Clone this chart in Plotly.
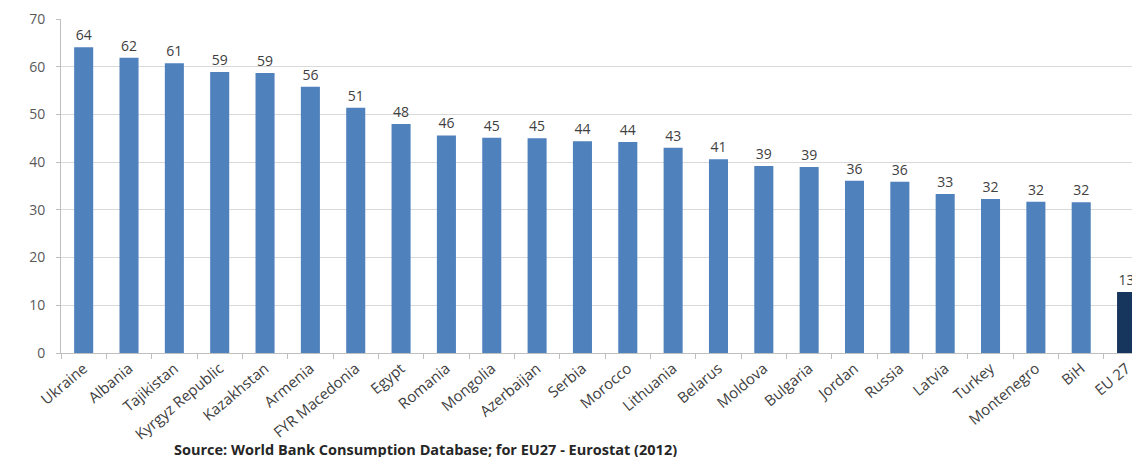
import plotly.graph_objects as go

countries = ["Ukraine", "Albania", "Tajikistan", "Kyrgyz Republic", "Kazakhstan", "Armenia",
             "FYR Macedonia", "Egypt", "Romania", "Mongolia", "Azerbaijan", "Serbia", "Morocco",
             "Lithuania", "Belarus", "Moldova", "Bulgaria", "Jordan", "Russia", "Latvia",
             "Turkey", "Montenegro", "BiH", "EU 27"]
values = [64.1, 61.9, 60.7, 58.9, 58.7, 55.8, 51.4, 48.0, 45.6, 45.1, 45.0, 44.4, 44.2,
          43.0, 40.6, 39.2, 39.0, 36.1, 35.9, 33.3, 32.3, 31.7, 31.6, 12.8]
y_ticks = [0, 10, 20, 30, 40, 50, 60, 70]
source_text = "Source: World Bank Consumption Database; for EU27 - Eurostat (2012)"

colors = ["#4F81BD"] * (len(countries) - 1) + ["#17365D"]

FONT = "Open Sans"

fig = go.Figure(go.Bar(
    x=countries,
    y=values,
    marker=dict(color=colors, line=dict(width=0)),
    width=0.42,
    texttemplate="%{y:.0f}",
    textposition="outside",
    textfont=dict(family=FONT, size=14, color="#404040"),
    cliponaxis=True,
))

fig.update_layout(
    width=1132, height=457,
    margin=dict(l=61, r=0, t=19, b=104, autoexpand=False),
    plot_bgcolor="white", paper_bgcolor="white",
    showlegend=False,
    font=dict(family=FONT, color="#404040"),
    bargap=0.58,
)

fig.update_yaxes(
    range=[0, 70], tickvals=y_ticks,
    showgrid=True, gridcolor="#D9D9D9", gridwidth=1,
    showline=True, linecolor="#BFBFBF", linewidth=1,
    ticks="outside", ticklen=4, tickcolor="#BFBFBF",
    tickfont=dict(family=FONT, size=14, color="#595959"),
    ticklabelstandoff=8,
    zeroline=False, automargin=False,
)
fig.update_xaxes(
    range=[-0.5, 23.12],
    showline=True, linecolor="#BFBFBF", linewidth=1,
    ticks="outside", ticklen=5, tickcolor="#BFBFBF", tickson="boundaries",
    tickangle=-40,
    tickfont=dict(family=FONT, size=15, color="#404040"),
    showgrid=False, automargin=False,
)

fig.add_annotation(
    text="<b>" + source_text + "</b>",
    xref="paper", yref="paper", x=(172 - 61) / 1071, y=-(449 - 353) / 334,
    xanchor="left", yanchor="middle", showarrow=False,
    font=dict(family=FONT, size=14.5, color="#262626"),
)

fig.write_html(
    "out.html",
    config={"displayModeBar": False},
    post_script="document.body.style.margin='0';document.documentElement.style.overflow='hidden';",
)
